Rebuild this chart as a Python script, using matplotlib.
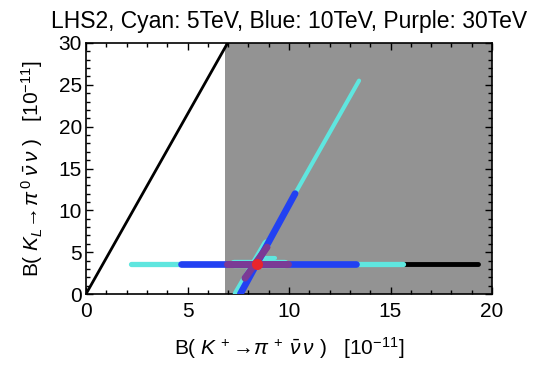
import numpy as np
import matplotlib
matplotlib.use("Agg")
import matplotlib.pyplot as plt
from matplotlib.ticker import MultipleLocator

plt.rcParams['font.family'] = ['Liberation Sans', 'DejaVu Sans']
plt.rcParams['mathtext.fontset'] = 'custom'
plt.rcParams['mathtext.rm'] = 'Liberation Sans'
plt.rcParams['mathtext.it'] = 'Liberation Sans:italic'

# Grossman-Nir bound slope and excluded region start
gn_slope = 4.3
excl_x = 6.85

# horizontal branches (x range at fixed y)
h_y = 3.55
h_cyan = [2.2, 15.6]
h_black = [15.6, 19.3]
h_blue = [4.7, 13.3]
h_purple = [6.95, 9.95]

# diagonal branch endpoints (x0, y0) -> (x1, y1)
d_cyan = [(7.5, 0.0), (13.45, 25.5)]
d_blue = [(7.6, 0.0), (10.3, 12.0)]
d_purple = [(7.83, 1.9), (8.92, 5.6)]
d_cyan_fringe = [(7.45, 0.0), (8.9, 6.0)]
h_cyan_fringe = [8.6, 9.3]

sm_point = (8.4, 3.6)

cyan = '#5fe6df'
blue = '#2241f2'
purple = '#7b3a95'
red = '#e8252c'

fig = plt.figure(figsize=(5.45, 3.65), dpi=100)
ax = fig.add_axes([86 / 545, 1 - 294 / 365, 406 / 545, 251 / 365])

ax.axvspan(excl_x, 20, color='#939393', zorder=0, lw=0)

xs = np.array([0, 30 / gn_slope])
ax.plot(xs, gn_slope * xs, color='black', lw=2.0, zorder=2)

def hline(xr, c, lw, z, y=h_y):
    ax.plot(xr, [y, y], color=c, lw=lw, solid_capstyle='round', zorder=z)

def dline(pts, c, lw, z):
    ax.plot([pts[0][0], pts[1][0]], [pts[0][1], pts[1][1]], color=c, lw=lw,
            solid_capstyle='round', zorder=z)

hline(h_black, 'black', 3.5, 3)
hline(h_cyan, cyan, 3.8, 3)
hline([7.3, 9.8], cyan, 6, 3)
hline(h_cyan_fringe, cyan, 3, 3, y=4.35)
dline(d_cyan, cyan, 3, 3)
dline(d_cyan_fringe, cyan, 6.5, 3)
hline(h_blue, blue, 4.8, 4)
dline(d_blue, blue, 4.8, 4)
hline(h_purple, purple, 5, 5)
dline(d_purple, purple, 5, 5)
ax.plot(*sm_point, 'o', color=red, ms=8, mec='none', zorder=6)

ax.set_xlim(0, 20)
ax.set_ylim(0, 30)
ax.xaxis.set_major_locator(MultipleLocator(5))
ax.xaxis.set_minor_locator(MultipleLocator(1))
ax.yaxis.set_major_locator(MultipleLocator(5))
ax.yaxis.set_minor_locator(MultipleLocator(1))
ax.tick_params(which='both', direction='in', top=True, right=True, labelsize=15,
               width=1)
ax.tick_params(axis='x', which='major', pad=6)
ax.tick_params(axis='y', which='major', pad=3)
ax.tick_params(which='major', length=5)
ax.tick_params(which='minor', length=3)
for s in ax.spines.values():
    s.set_linewidth(1.2)

ax.set_xlabel(r'B( $K^{\,+}\!\rightarrow\!\pi^{\,+}\;\bar{\nu}\,\nu$ )   [$10^{-11}$]',
              fontsize=15, labelpad=10)
ax.set_ylabel(r'B( $K_L\!\rightarrow\!\pi^{\,0}\;\bar{\nu}\,\nu$ )   [$10^{-11}$]',
              fontsize=15, labelpad=10)
ax.set_title('LHS2, Cyan: 5TeV, Blue: 10TeV, Purple: 30TeV', fontsize=16.5, pad=11)

fig.savefig('out.png', dpi=100)
